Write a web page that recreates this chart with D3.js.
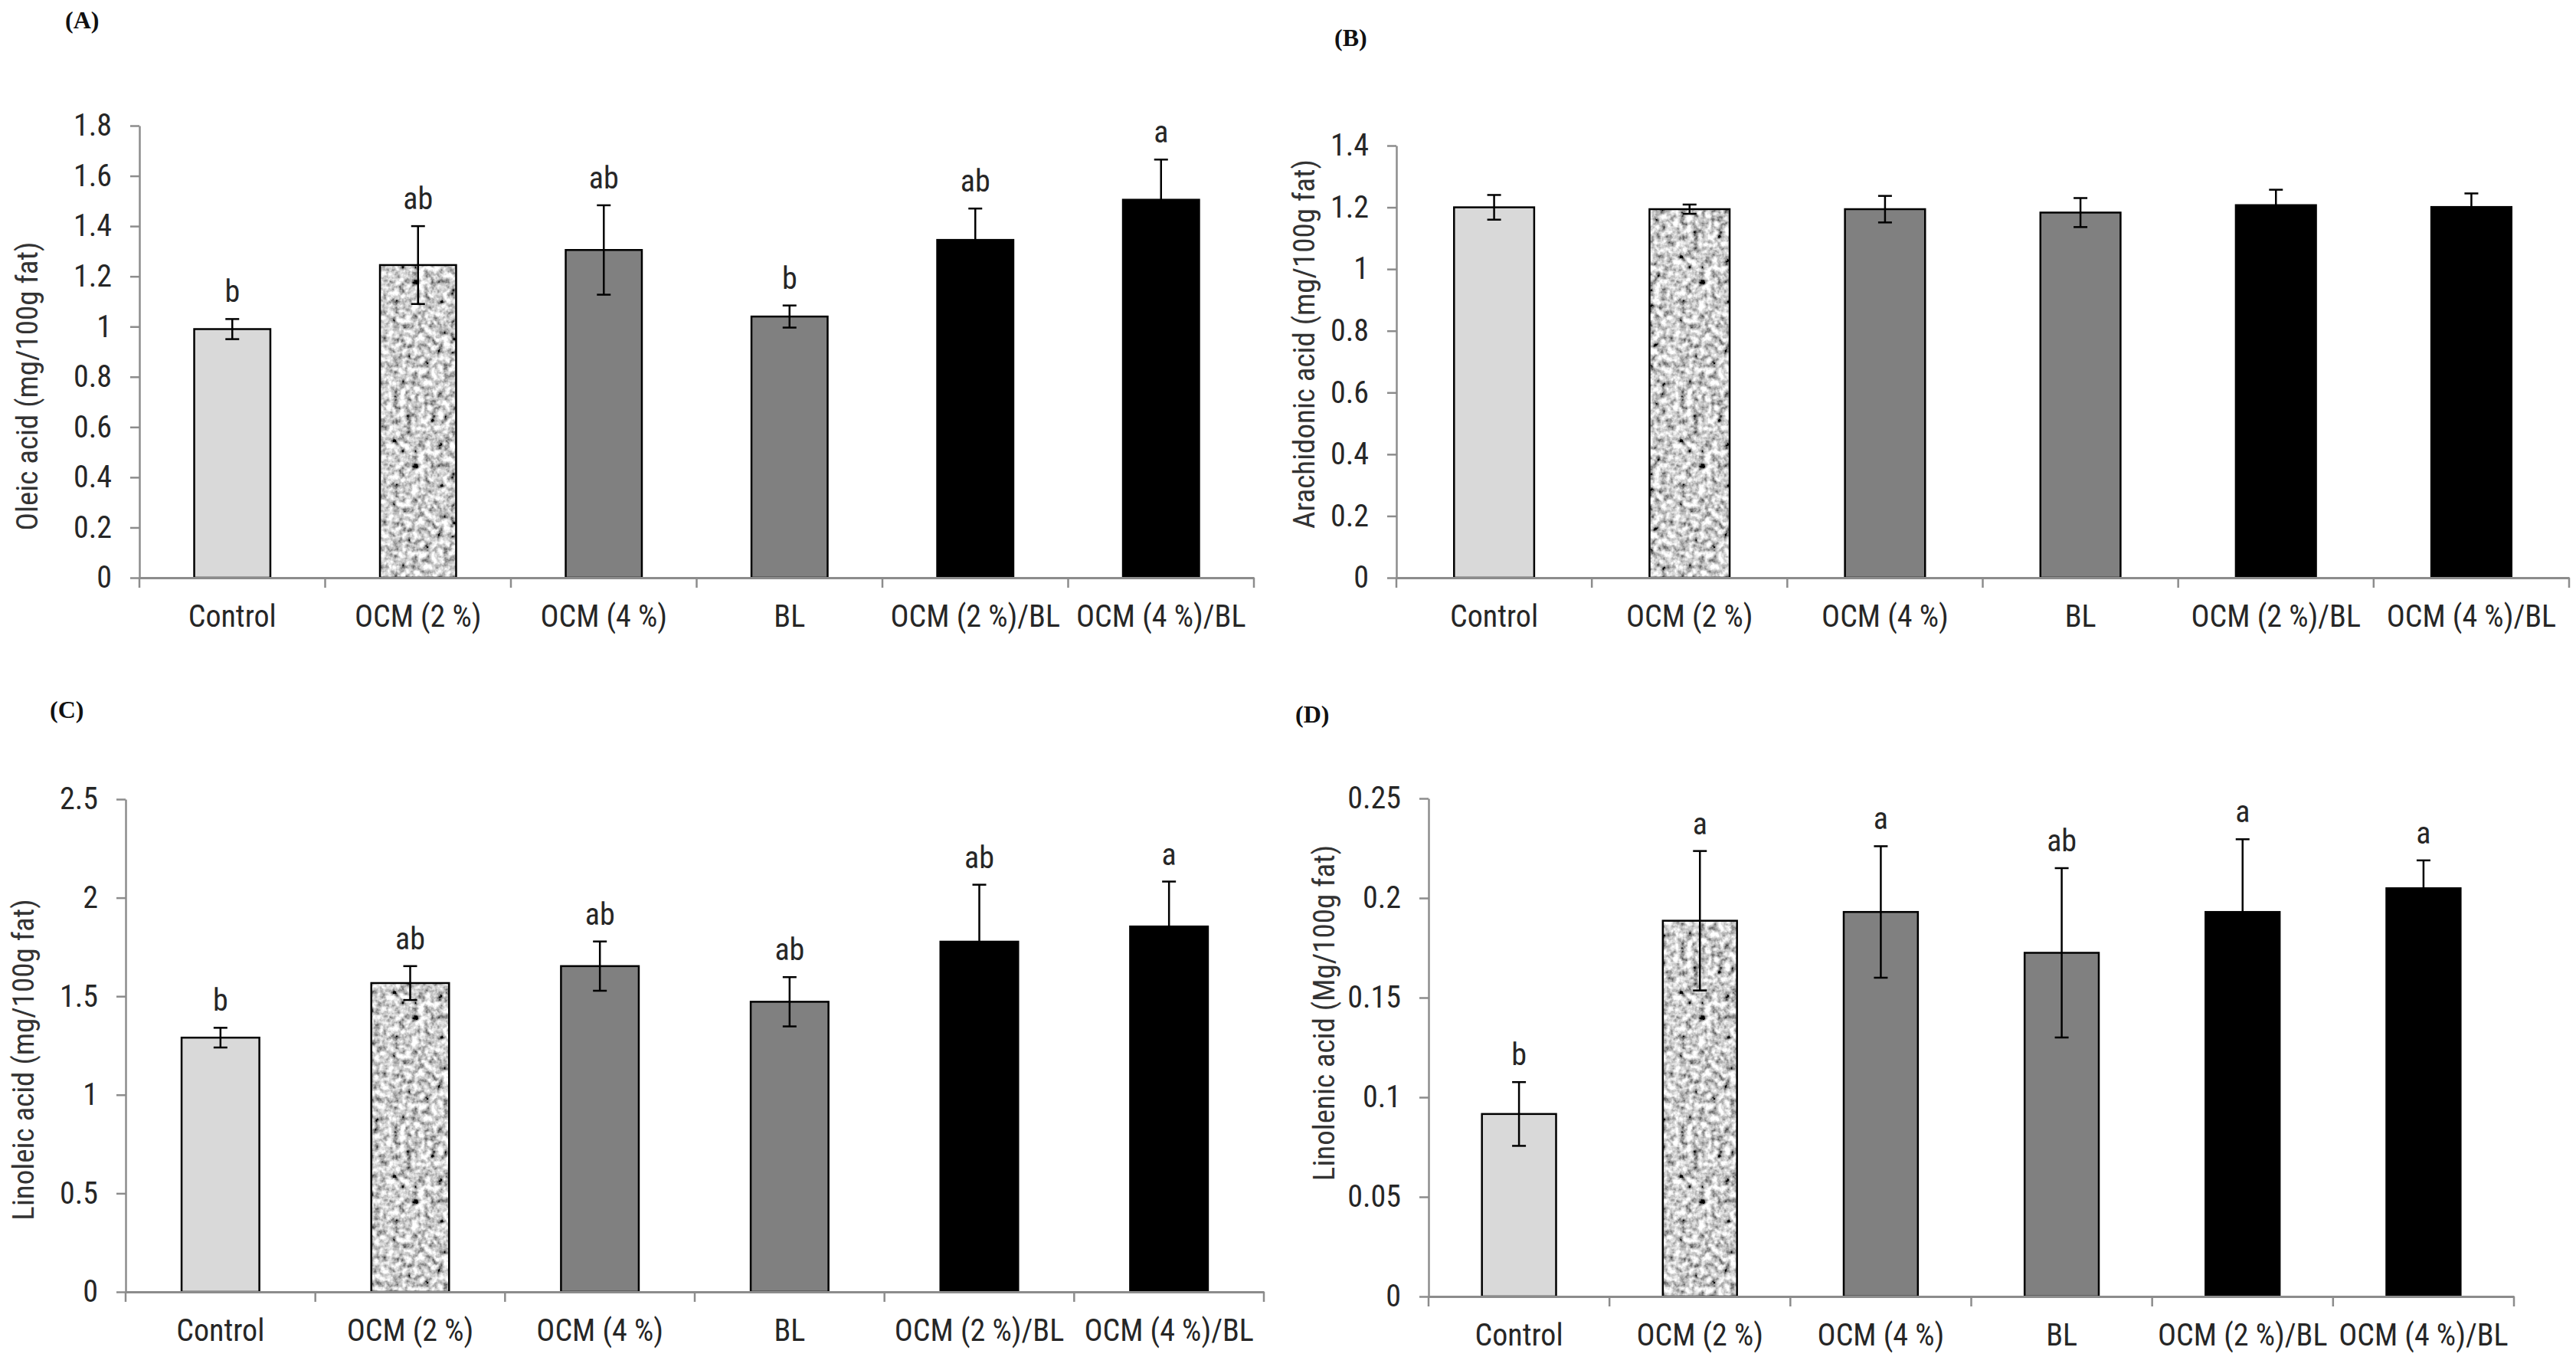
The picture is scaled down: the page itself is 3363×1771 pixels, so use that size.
<!DOCTYPE html>
<html>
<head>
<meta charset="utf-8">
<script src="https://cdn.jsdelivr.net/npm/d3@7"></script>
<style>
  body { margin: 0; background: #fff; }
  text { font-family: "Liberation Sans Narrow", "Roboto Condensed", "Arial Narrow", "Liberation Sans", sans-serif; }
</style>
</head>
<body>
<div id="chart"></div>
<script>
// groups on the x axis (same in all four panels)
const categories = ["Control", "OCM (2 %)", "OCM (4 %)", "BL", "OCM (2 %)/BL", "OCM (4 %)/BL"];

// (A) oleic acid
const oleicMean = [0.99, 1.245, 1.305, 1.04, 1.345, 1.505];
const oleicErr = [0.04, 0.155, 0.178, 0.044, 0.125, 0.16];
const oleicLetters = ["b", "ab", "ab", "b", "ab", "a"];
const oleicTicks = [0, 0.2, 0.4, 0.6, 0.8, 1, 1.2, 1.4, 1.6, 1.8];

// (B) arachidonic acid
const arachidonicMean = [1.2, 1.194, 1.194, 1.183, 1.207, 1.201];
const arachidonicErr = [0.04, 0.015, 0.043, 0.047, 0.05, 0.044];
const arachidonicLetters = ["", "", "", "", "", ""];
const arachidonicTicks = [0, 0.2, 0.4, 0.6, 0.8, 1, 1.2, 1.4];

// (C) linoleic acid
const linoleicMean = [1.29, 1.567, 1.653, 1.472, 1.777, 1.854];
const linoleicErr = [0.05, 0.086, 0.125, 0.125, 0.289, 0.228];
const linoleicLetters = ["b", "ab", "ab", "ab", "ab", "a"];
const linoleicTicks = [0, 0.5, 1, 1.5, 2, 2.5];

// (D) linolenic acid
const linolenicMean = [0.0916, 0.1886, 0.193, 0.1725, 0.193, 0.2049];
const linolenicErr = [0.016, 0.035, 0.033, 0.0425, 0.0365, 0.014];
const linolenicLetters = ["b", "a", "a", "ab", "a", "a"];
const linolenicTicks = [0, 0.05, 0.1, 0.15, 0.2, 0.25];

// bar fills per group
const barFills = ["#d9d9d9", "url(#granite)", "#808080", "#808080", "#000000", "#000000"];

const W = 3363, H = 1771;

const svg = d3.select("#chart").append("svg")
    .attr("width", W)
    .attr("height", H);

// speckled texture for the OCM (2 %) bars
const defs = svg.append("defs");
const noise = defs.append("filter").attr("id", "noise")
    .attr("x", 0).attr("y", 0).attr("width", 1).attr("height", 1);
noise.append("feTurbulence")
    .attr("type", "fractalNoise")
    .attr("baseFrequency", 0.12)
    .attr("numOctaves", 3)
    .attr("seed", 7)
    .attr("stitchTiles", "stitch");
noise.append("feColorMatrix").attr("type", "saturate").attr("values", 0);
const ct = noise.append("feComponentTransfer");
ct.append("feFuncR").attr("type", "linear").attr("slope", 2.6).attr("intercept", -0.68);
ct.append("feFuncG").attr("type", "linear").attr("slope", 2.6).attr("intercept", -0.68);
ct.append("feFuncB").attr("type", "linear").attr("slope", 2.6).attr("intercept", -0.68);
ct.append("feFuncA").attr("type", "table").attr("tableValues", "1 1");
defs.append("pattern").attr("id", "granite")
    .attr("patternUnits", "userSpaceOnUse")
    .attr("width", 240).attr("height", 240)
    .append("rect")
    .attr("width", 240).attr("height", 240)
    .attr("filter", "url(#noise)");

const panels = [
    {label: "(A)", title: "Oleic acid (mg/100g fat)", mean: oleicMean, err: oleicErr, letters: oleicLetters,
     ticks: oleicTicks, yMax: 1.8, x0: 182, x1: 1637, yTop: 164, yBase: 754,
     titleX: 35, titleY: 504, labelX: 85, labelY: 37},
    {label: "(B)", title: "Arachidonic acid (mg/100g fat)", mean: arachidonicMean, err: arachidonicErr, letters: arachidonicLetters,
     ticks: arachidonicTicks, yMax: 1.4, x0: 1823, x1: 3354, yTop: 190, yBase: 754,
     titleX: 1702, titleY: 449, labelX: 1742, labelY: 60},
    {label: "(C)", title: "Linoleic acid (mg/100g fat)", mean: linoleicMean, err: linoleicErr, letters: linoleicLetters,
     ticks: linoleicTicks, yMax: 2.5, x0: 164, x1: 1650, yTop: 1043, yBase: 1686,
     titleX: 30, titleY: 1383, labelX: 65, labelY: 937},
    {label: "(D)", title: "Linolenic acid (Mg/100g fat)", mean: linolenicMean, err: linolenicErr, letters: linolenicLetters,
     ticks: linolenicTicks, yMax: 0.25, x0: 1865, x1: 3282, yTop: 1042, yBase: 1692,
     titleX: 1728, titleY: 1322, labelX: 1691, labelY: 943}
];

const axisColor = "#8c8c8c";
const textColor = "#262626";

panels.forEach(p => {
    const g = svg.append("g");

    const x = d3.scaleBand()
        .domain(categories)
        .range([p.x0, p.x1])
        .paddingInner(0.59)
        .paddingOuter(0.295);

    const y = d3.scaleLinear()
        .domain([0, p.yMax])
        .range([p.yBase, p.yTop]);

    const rows = categories.map((c, i) => ({
        cat: c, mean: p.mean[i], err: p.err[i], letter: p.letters[i], fill: barFills[i]
    }));

    // y axis
    const yAxis = g.append("g")
        .attr("transform", `translate(${p.x0},0)`)
        .call(d3.axisLeft(y)
            .tickValues(p.ticks)
            .tickSize(12)
            .tickSizeOuter(0)
            .tickPadding(24)
            .tickFormat(d => String(+d.toFixed(2))));
    yAxis.select(".domain").attr("stroke", axisColor).attr("stroke-width", 2.5);
    yAxis.selectAll(".tick line").attr("stroke", axisColor).attr("stroke-width", 2.5);
    yAxis.selectAll(".tick text")
        .attr("fill", textColor)
        .style("font-size", "40px");

    // bars
    g.selectAll("rect.bar")
        .data(rows)
        .join("rect")
        .attr("class", "bar")
        .attr("x", d => x(d.cat))
        .attr("y", d => y(d.mean))
        .attr("width", x.bandwidth())
        .attr("height", d => y(0) - y(d.mean))
        .attr("fill", d => d.fill)
        .attr("stroke", "#000")
        .attr("stroke-width", 2.5);

    // x axis (line + labels), ticks drawn between groups
    const xAxis = g.append("g")
        .attr("transform", `translate(0,${p.yBase})`)
        .call(d3.axisBottom(x).tickSize(0).tickSizeOuter(0));
    xAxis.select(".domain").attr("stroke", axisColor).attr("stroke-width", 3);
    xAxis.selectAll(".tick text")
        .attr("dy", null)
        .attr("y", 64)
        .attr("fill", textColor)
        .style("font-size", "40px");
    g.selectAll("line.sep")
        .data(d3.range(categories.length + 1))
        .join("line")
        .attr("class", "sep")
        .attr("x1", i => p.x0 + i * x.step())
        .attr("x2", i => p.x0 + i * x.step())
        .attr("y1", p.yBase)
        .attr("y2", p.yBase + 13)
        .attr("stroke", axisColor)
        .attr("stroke-width", 2.5);

    // error bars
    const cx = d => x(d.cat) + x.bandwidth() / 2;
    const eb = g.selectAll("g.err")
        .data(rows)
        .join("g")
        .attr("class", "err")
        .attr("stroke", "#000")
        .attr("stroke-width", 2.5);
    eb.append("line")
        .attr("x1", cx).attr("x2", cx)
        .attr("y1", d => y(d.mean - d.err))
        .attr("y2", d => y(d.mean + d.err));
    eb.append("line")
        .attr("x1", d => cx(d) - 9).attr("x2", d => cx(d) + 9)
        .attr("y1", d => y(d.mean + d.err))
        .attr("y2", d => y(d.mean + d.err));
    eb.append("line")
        .attr("x1", d => cx(d) - 9).attr("x2", d => cx(d) + 9)
        .attr("y1", d => y(d.mean - d.err))
        .attr("y2", d => y(d.mean - d.err));

    // significance letters
    g.selectAll("text.letter")
        .data(rows)
        .join("text")
        .attr("class", "letter")
        .attr("x", cx)
        .attr("y", d => y(d.mean + d.err) - 22)
        .attr("text-anchor", "middle")
        .attr("fill", textColor)
        .style("font-size", "40px")
        .text(d => d.letter);

    // y axis title
    g.append("text")
        .attr("transform", `translate(${p.titleX},${p.titleY}) rotate(-90)`)
        .attr("text-anchor", "middle")
        .attr("dy", "0.35em")
        .attr("fill", "#333")
        .style("font-size", "39px")
        .text(p.title);

    // panel label
    g.append("text")
        .attr("x", p.labelX)
        .attr("y", p.labelY)
        .attr("fill", "#111")
        .style("font-family", "'Liberation Serif', 'DejaVu Serif', serif")
        .style("font-weight", "bold")
        .style("font-size", "32px")
        .text(p.label);
});
</script>
</body>
</html>
